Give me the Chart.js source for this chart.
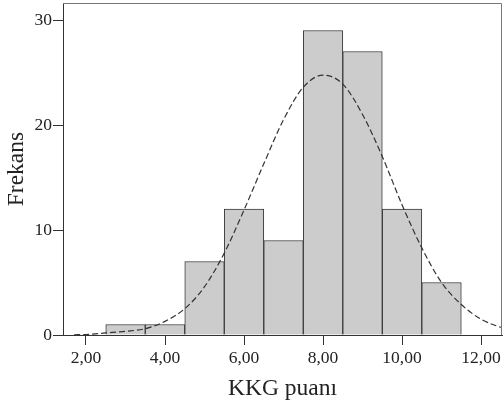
<!DOCTYPE html>
<html>
<head>
<meta charset="utf-8">
<script src="https://cdn.jsdelivr.net/npm/chart.js@4/dist/chart.umd.min.js"></script>
<style>
  html, body { margin: 0; padding: 0; background: #fff; }
  #wrap { width: 503px; height: 408px; position: relative; }
</style>
</head>
<body>
<div id="wrap"><canvas id="hist"></canvas></div>
<script>
// histogram bins (centre of each 1-unit bin) and their counts
const BIN_CENTERS = [3, 4, 5, 6, 7, 8, 9, 10, 11];
const FREQ = [1, 1, 7, 12, 9, 29, 27, 12, 5];

// normal curve
const CURVE_X = [1.7, 2.0, 2.5, 3.0, 3.5, 4.0, 4.5, 5.0, 5.5, 6.0, 6.5, 7.0, 7.5, 8.0, 8.5, 9.0, 9.5, 10.0, 10.5, 11.0, 11.5, 12.0, 12.55];
const CURVE_Y = [0.02, 0.05, 0.2, 0.35, 0.6, 1.3, 2.5, 4.6, 7.8, 11.9, 16.3, 20.5, 23.6, 24.75, 23.9, 21.0, 17.0, 12.4, 8.3, 5.0, 2.9, 1.5, 0.65];

const X_TICKS = [2, 4, 6, 8, 10, 12];
const Y_TICKS = [0, 10, 20, 30];
const X_MIN = 1.418, X_MAX = 12.53;
const Y_MAX = 31.62;

const SERIF = "'Liberation Serif', 'DejaVu Serif', serif";
const ink = '#222';

const frame = {
  id: 'frame',
  afterDraw(chart) {
    const { ctx, chartArea: a } = chart;
    ctx.save();
    ctx.strokeStyle = '#777';
    ctx.lineWidth = 1;
    ctx.beginPath();
    ctx.moveTo(a.left, a.top + 0.5);
    ctx.lineTo(a.right - 0.5, a.top + 0.5);
    ctx.lineTo(a.right - 0.5, a.bottom);
    ctx.stroke();
    ctx.restore();
  }
};

new Chart(document.getElementById('hist'), {
  type: 'bar',
  data: {
    datasets: [{
      type: 'line',
      data: CURVE_X.map((x, i) => ({ x, y: CURVE_Y[i] })),
      borderColor: '#333',
      borderWidth: 1.2,
      borderDash: [6, 3],
      pointRadius: 0,
      cubicInterpolationMode: 'monotone',
      fill: false,
      order: 0
    }, {
      data: BIN_CENTERS.map((x, i) => ({ x, y: FREQ[i] })),
      backgroundColor: '#cccccc',
      borderColor: '#3a3a3a',
      borderWidth: 1,
      barPercentage: 1,
      categoryPercentage: 1,
      order: 1
    }]
  },
  options: {
    responsive: true,
    maintainAspectRatio: false,
    animation: false,
    layout: { padding: { left: 0, top: 3, right: 1, bottom: 0 } },
    plugins: { legend: { display: false }, tooltip: { enabled: false } },
    scales: {
      x: {
        type: 'linear',
        offset: false,
        min: X_MIN,
        max: X_MAX,
        afterBuildTicks: s => { s.ticks = X_TICKS.map(v => ({ value: v })); },
        afterFit: s => { s.height = 73; s.paddingLeft = 0; s.paddingRight = 1; },
        ticks: {
          color: ink,
          font: { family: SERIF, size: 17.5 },
          padding: 3,
          maxRotation: 0,
          callback: v => v.toFixed(2).replace('.', ',')
        },
        grid: { offset: false, drawOnChartArea: false, tickLength: 10, color: '#333' },
        border: { color: '#333', width: 1 },
        title: { display: true, text: 'KKG puanı', color: ink, font: { family: SERIF, size: 23.5 }, padding: { top: 4, bottom: 5 } }
      },
      y: {
        min: 0,
        max: Y_MAX,
        afterBuildTicks: s => { s.ticks = Y_TICKS.map(v => ({ value: v })); },
        afterFit: s => { s.width = 63; s.paddingTop = 3; s.paddingBottom = 0; },
        ticks: { color: ink, font: { family: SERIF, size: 17.5 }, padding: 1 },
        grid: { drawOnChartArea: false, tickLength: 10, color: '#333' },
        border: { color: '#333', width: 1 },
        title: { display: true, text: 'Frekans', color: ink, font: { family: SERIF, size: 23.5 }, padding: { top: 3, bottom: 4 } }
      }
    }
  },
  plugins: [frame]
});
</script>
</body>
</html>
